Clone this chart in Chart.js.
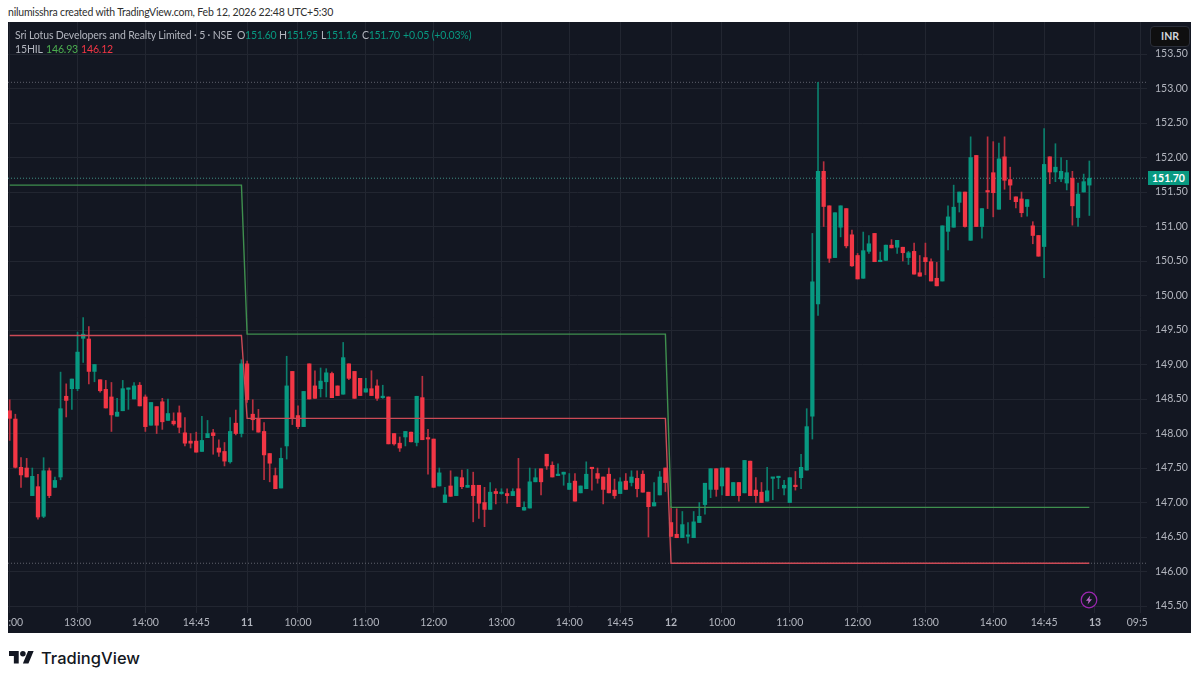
<!DOCTYPE html>
<html>
<head>
<meta charset="utf-8">
<title>Sri Lotus Developers and Realty Limited</title>
<script src="https://cdn.jsdelivr.net/npm/chart.js@4/dist/chart.umd.min.js"></script>
<style>
html, body { margin: 0; padding: 0; background: #fff; width: 1200px; height: 683px; overflow: hidden; }
body { position: relative; font-family: Lato, sans-serif; }
.abs { position: absolute; white-space: nowrap; }
#panel { position: absolute; left: 8px; top: 22px; width: 1183px; height: 611px; background: #131722; overflow: hidden; }
#chart { position: absolute; left: 0; top: 0; }
#byline { left: 8px; top: 4px; font-size: 10.5px; letter-spacing: -0.2px; line-height: 16px; color: #2e2e2e; }
.legend { font-size: 10.5px; letter-spacing: -0.15px; line-height: 14px; color: #b2b5be; }
.num { letter-spacing: -0.3px; }
.teal { color: #089981; }
#inr { left: 1150px; top: 26px; width: 38px; height: 19px; border: 1px solid #2a2e39; border-radius: 4px; background: #0f0f10; color: #d1d4dc; font-size: 10.5px; font-weight: 700; line-height: 19px; text-align: center; }
#last { left: 1148px; top: 171px; width: 41px; height: 14px; background: #089981; color: #fff; font-size: 10.5px; font-weight: 700; line-height: 14px; text-align: center; }
#cut { left: 1147px; top: 613px; width: 44px; height: 20px; background: #131722; }
#tvname { left: 41px; top: 645px; font-family: Inter, sans-serif; font-size: 16.5px; font-weight: 500; line-height: 26px; color: #131722; }
</style>
</head>
<body>
<div id="panel"><canvas id="chart" width="1183" height="611"></canvas></div>
<div class="abs" id="cut"></div>
<div class="abs" id="byline">nilumisshra created with TradingView.com, Feb 12, 2026 22:48 UTC+5:30</div>
<div class="abs legend" style="left:15px;top:28px">Sri Lotus Developers and Realty Limited · 5 · NSE</div>
<div class="abs legend num" style="left:237px;top:28px">O<span class="teal">151.60</span></div>
<div class="abs legend num" style="left:279px;top:28px">H<span class="teal">151.95</span></div>
<div class="abs legend num" style="left:321px;top:28px">L<span class="teal">151.16</span></div>
<div class="abs legend num" style="left:362px;top:28px">C<span class="teal">151.70</span></div>
<div class="abs legend teal" style="left:403px;top:28px">+0.05 (+0.03%)</div>
<div class="abs legend" style="left:15px;top:42px">15HIL</div>
<div class="abs legend" style="left:46px;top:42px;color:#4caf50">146.93</div>
<div class="abs legend" style="left:81px;top:42px;color:#f23645">146.12</div>
<div class="abs" id="inr">INR</div>
<div class="abs" id="last">151.70</div>
<svg class="abs" style="left:1080px;top:591px" width="18" height="18" viewBox="0 0 18 18">
  <circle cx="9" cy="9" r="7.8" fill="#131722" stroke="#9c27b0" stroke-width="1.2"/>
  <path d="M10.3 4.6 6 9.8h2.6L7.6 13.4 12 8.2H9.4z" fill="#ba68c8"/>
</svg>
<svg class="abs" style="left:9px;top:648px" width="25" height="20" viewBox="0 0 36 28">
  <path d="M14 22H7V11H0V4h14v18zM28 22h-8l7.5-18h8L28 22z" fill="#131722"/>
  <circle cx="20" cy="8" r="4" fill="#131722"/>
</svg>
<div class="abs" id="tvname">TradingView</div>

<script>
// 5 minute candles, first one on screen is bar -42, session of the 11th starts at bar 0
var opens = [
    148.33, 148.21, 147.51, 147.50, 147.10, 147.23, 146.80, 147.46, 147.22, 147.37,
    148.54, 148.65, 148.65, 149.38, 149.37, 148.90, 148.78, 148.64, 148.53, 148.25,
    148.33, 148.64, 148.50, 148.70, 148.53, 148.12, 148.39, 148.46, 148.19, 148.18,
    148.30, 148.01, 147.89, 147.89, 147.74, 147.94, 148.01, 147.79, 147.74, 147.59,
    148.15, 148.00,
    // 11th
    149.01, 148.28, 148.21, 148.03, 147.71, 147.39, 147.21, 147.82, 148.90, 148.26,
    148.10, 149.01, 148.69, 148.65, 148.75, 148.87, 148.69, 148.57, 149.01, 148.90,
    148.80, 148.60, 148.65, 148.69, 148.52, 148.53, 148.00, 147.86, 147.95, 148.02,
    147.87, 148.52, 147.93, 147.92, 147.24, 147.00, 147.24, 147.10, 147.36, 147.22,
    147.25, 147.25, 147.00, 146.90, 147.16, 147.13, 147.13, 147.10, 147.20, 146.89,
    146.92, 147.30, 147.49, 147.70, 147.54, 147.39, 147.41, 147.19, 147.31, 147.14,
    147.20, 147.50, 147.42, 147.37, 147.41, 147.18, 147.13, 147.31, 147.29, 147.35,
    147.41, 147.15, 146.95, 147.11, 147.50,
    // 12th
    146.71, 146.54, 146.49, 146.51, 146.49, 146.71, 146.97, 147.19, 147.49, 147.24,
    147.50, 147.10, 147.29, 147.14, 147.60, 147.18, 147.15, 147.02, 147.35, 147.36,
    147.21, 147.00, 147.25, 147.36, 147.47, 148.25, 149.88, 151.80, 151.30, 150.55,
    150.99, 151.26, 150.88, 150.58, 150.25, 150.64, 150.90, 150.49, 150.51, 150.73,
    150.70, 150.70, 150.55, 150.64, 150.33, 150.55, 150.49, 150.25, 150.21, 150.93,
    150.99, 151.35, 151.50, 150.80, 152.03, 151.00, 151.51, 151.78, 151.25, 152.01,
    151.68, 151.43, 151.40, 151.29, 151.01, 150.87, 150.71, 152.01, 151.79, 151.69,
    151.63, 151.70, 151.13, 151.50, 151.60
];
var highs = [
    148.49, 148.28, 147.65, 147.64, 147.50, 147.41, 147.65, 147.50, 147.37, 148.89,
    148.72, 148.79, 149.47, 149.68, 149.55, 149.00, 148.78, 148.77, 148.74, 148.51,
    148.77, 148.66, 148.74, 148.74, 148.56, 148.45, 148.39, 148.51, 148.50, 148.30,
    148.40, 148.23, 148.00, 148.02, 148.25, 148.19, 148.06, 147.91, 147.87, 148.23,
    148.34, 149.07,
    // 11th
    149.05, 148.49, 148.35, 148.16, 147.71, 147.50, 147.79, 149.12, 148.90, 148.40,
    148.61, 149.01, 148.91, 148.95, 148.94, 148.89, 148.69, 149.32, 149.01, 148.90,
    148.80, 148.80, 148.91, 148.78, 148.70, 148.53, 148.00, 147.95, 148.03, 148.02,
    148.54, 148.83, 148.06, 147.92, 147.50, 147.22, 147.46, 147.37, 147.47, 147.48,
    147.44, 147.25, 147.22, 147.29, 147.20, 147.20, 147.20, 147.20, 147.64, 147.01,
    147.50, 147.49, 147.49, 147.70, 147.59, 147.56, 147.44, 147.42, 147.42, 147.24,
    147.59, 147.50, 147.50, 147.37, 147.50, 147.34, 147.36, 147.42, 147.46, 147.46,
    147.46, 147.15, 147.29, 147.45, 147.50,
    // 12th
    146.94, 146.91, 146.87, 146.71, 146.87, 147.00, 147.28, 147.49, 147.49, 147.50,
    147.50, 147.29, 147.29, 147.61, 147.60, 147.36, 147.29, 147.51, 147.36, 147.37,
    147.32, 147.36, 147.45, 147.70, 148.36, 150.90, 153.09, 151.94, 151.30, 151.20,
    151.30, 151.26, 150.95, 150.61, 150.92, 150.87, 150.90, 150.63, 150.73, 150.81,
    150.80, 150.70, 150.64, 150.76, 150.58, 150.76, 150.53, 150.48, 151.01, 151.30,
    151.60, 151.50, 151.50, 152.30, 152.03, 151.26, 152.30, 152.23, 152.21, 152.30,
    151.86, 151.43, 151.50, 151.39, 151.07, 150.87, 152.42, 152.01, 152.20, 152.00,
    151.96, 151.80, 151.63, 151.76, 151.95
];
var lows = [
    147.90, 147.50, 147.22, 147.37, 147.10, 146.76, 146.78, 147.07, 147.22, 147.33,
    148.24, 148.35, 148.62, 149.03, 148.72, 148.75, 148.60, 148.37, 148.03, 148.25,
    148.33, 148.35, 148.50, 148.40, 148.03, 148.12, 148.00, 148.06, 148.19, 148.12,
    148.01, 147.82, 147.79, 147.73, 147.74, 147.94, 147.70, 147.67, 147.53, 147.57,
    147.98, 147.95,
    // 11th
    148.45, 148.05, 148.02, 147.33, 147.30, 147.20, 147.21, 147.63, 148.13, 148.07,
    148.10, 148.50, 148.51, 148.53, 148.53, 148.52, 148.55, 148.57, 148.78, 148.51,
    148.55, 148.60, 148.55, 148.48, 148.51, 147.85, 147.83, 147.74, 147.82, 147.88,
    147.82, 147.91, 147.41, 147.22, 147.24, 147.00, 147.09, 147.10, 147.20, 147.22,
    146.72, 146.77, 146.65, 146.90, 146.98, 147.12, 146.99, 147.10, 146.94, 146.89,
    146.92, 147.30, 147.11, 147.48, 147.37, 147.39, 147.25, 147.19, 147.02, 147.14,
    147.20, 147.18, 147.28, 146.98, 147.14, 147.06, 147.13, 147.19, 147.24, 147.08,
    147.15, 146.50, 146.95, 147.11, 147.16,
    // 12th
    146.51, 146.49, 146.49, 146.41, 146.49, 146.71, 146.83, 147.07, 147.09, 147.11,
    147.10, 147.10, 147.02, 147.14, 147.10, 147.00, 147.00, 147.02, 147.04, 147.20,
    147.11, 147.00, 147.18, 147.20, 147.47, 147.92, 149.71, 151.00, 150.48, 150.55,
    150.85, 150.69, 150.42, 150.24, 150.25, 150.61, 150.49, 150.49, 150.51, 150.69,
    150.61, 150.50, 150.45, 150.31, 150.28, 150.30, 150.21, 150.14, 150.21, 150.66,
    150.99, 151.21, 150.99, 150.80, 151.00, 150.83, 151.26, 151.14, 151.25, 151.54,
    151.39, 151.27, 151.14, 151.15, 150.75, 150.57, 150.26, 151.62, 151.65, 151.65,
    151.53, 151.02, 151.00, 151.50, 151.16
];
var closes = [
    148.22, 147.51, 147.40, 147.37, 147.38, 146.79, 147.46, 147.10, 147.32, 148.36,
    148.48, 148.79, 149.18, 149.44, 148.90, 149.00, 148.62, 148.37, 148.27, 148.31,
    148.65, 148.66, 148.69, 148.40, 148.10, 148.45, 148.12, 148.17, 148.29, 148.14,
    148.09, 147.86, 147.86, 147.73, 147.90, 148.00, 147.97, 147.73, 147.60, 148.03,
    148.00, 149.01,
    // 11th
    148.49, 148.20, 148.02, 147.69, 147.57, 147.20, 147.64, 148.69, 148.22, 148.10,
    148.61, 148.50, 148.51, 148.76, 148.88, 148.52, 148.55, 149.10, 148.80, 148.51,
    148.55, 148.65, 148.55, 148.51, 148.53, 147.85, 147.85, 147.79, 148.03, 147.88,
    148.54, 147.91, 147.92, 147.22, 147.43, 147.11, 147.09, 147.37, 147.23, 147.25,
    147.10, 146.99, 146.90, 147.15, 147.13, 147.14, 147.10, 147.16, 146.94, 146.93,
    147.30, 147.36, 147.30, 147.53, 147.37, 147.40, 147.44, 147.28, 147.02, 147.24,
    147.41, 147.49, 147.35, 147.19, 147.14, 147.10, 147.30, 147.19, 147.37, 147.20,
    147.15, 146.94, 147.00, 147.37, 147.29,
    // 12th
    146.51, 146.49, 146.68, 146.53, 146.72, 146.80, 147.28, 147.49, 147.19, 147.50,
    147.10, 147.29, 147.10, 147.61, 147.10, 147.10, 147.00, 147.17, 147.36, 147.37,
    147.25, 147.36, 147.23, 147.51, 148.10, 150.20, 151.80, 151.29, 150.54, 151.20,
    151.30, 150.72, 150.43, 150.24, 150.65, 150.75, 150.49, 150.51, 150.73, 150.69,
    150.80, 150.62, 150.62, 150.31, 150.28, 150.49, 150.21, 150.14, 151.01, 151.14,
    151.28, 151.50, 151.00, 152.00, 151.00, 151.26, 151.50, 151.49, 151.98, 151.67,
    151.60, 151.36, 151.20, 151.39, 150.87, 150.57, 151.90, 151.79, 151.86, 151.80,
    151.78, 151.30, 151.47, 151.65, 151.70
];

// 15HIL high and low, held flat for a session then stepping at the open
var hilBars = [-42, -1, 0, 74, 75, 149];
var hilHigh = [151.60, 151.60, 149.44, 149.44, 146.93, 146.93];
var hilLow = [149.42, 149.42, 148.22, 148.22, 146.12, 146.12];

// dotted price lines across the pane: day high, last price, day low
var dottedEnds = [-42.3, 159.2];
var dayHigh = [153.09, 153.09];
var lastPrice = [151.70, 151.70];
var dayLow = [146.12, 146.12];

var priceTicks = [145.5, 146, 146.5, 147, 147.5, 148, 148.5, 149, 149.5, 150, 150.5, 151, 151.5, 152, 152.5, 153, 153.5];
var timeTickBars = [-42, -30, -18, -9, 0, 9, 21, 33, 45, 57, 66, 75, 84, 96, 108, 120, 132, 141, 150, 158];
var timeTickLabels = ['12:00', '13:00', '14:00', '14:45', '11', '10:00', '11:00', '12:00', '13:00', '14:00', '14:45', '12', '10:00', '11:00', '12:00', '13:00', '14:00', '14:45', '13', '09:55'];
var dayTicks = ['11', '12', '13'];

var GREEN = '#089981';
var RED = '#f23645';
var FIRST_BAR = -42;
var AXIS_FONT = 'Lato, sans-serif';

function candleColor(i, up, down) {
    return closes[i] >= opens[i] ? up : down;
}

function xy(xs, ys) {
    return xs.map(function (x, i) { return { x: x, y: ys[i] }; });
}

function lineSet(xs, ys, color, extra) {
    return Object.assign({
        type: 'line',
        data: xy(xs, ys),
        borderColor: color,
        borderWidth: 1.4,
        pointRadius: 0,
        tension: 0,
        order: 0
    }, extra || {});
}

// no room kept for labels that hang over the pane edge, they get cut like the original
function noPadding(axis) {
    axis.paddingLeft = 0;
    axis.paddingRight = 0;
    axis.paddingTop = 0;
    axis.paddingBottom = 0;
}

var wicks = opens.map(function (o, i) { return { x: i + FIRST_BAR, y: [lows[i], highs[i]] }; });
var bodies = opens.map(function (o, i) { return { x: i + FIRST_BAR, y: [o, closes[i]] }; });

var ctx = document.getElementById('chart').getContext('2d');
var myChart = new Chart(ctx, {
    type: 'bar',
    data: {
        datasets: [
            lineSet(hilBars, hilHigh, '#3f8f4e'),
            lineSet(hilBars, hilLow, '#cc4a56'),
            lineSet(dottedEnds, dayHigh, '#5f626d', { borderWidth: 1, borderDash: [1, 2], order: 3 }),
            lineSet(dottedEnds, lastPrice, '#3f8f84', { borderWidth: 1, borderDash: [1, 2], order: 3 }),
            lineSet(dottedEnds, dayLow, '#5f626d', { borderWidth: 1, borderDash: [1, 2], order: 3 }),
            {
                data: bodies,
                grouped: false,
                barThickness: 3.6,
                minBarLength: 1.5,
                backgroundColor: opens.map(function (o, i) { return candleColor(i, GREEN, RED); }),
                order: 1
            },
            {
                data: wicks,
                grouped: false,
                barThickness: 1,
                backgroundColor: opens.map(function (o, i) { return candleColor(i, '#0b7f6d', '#b8303f'); }),
                order: 2
            }
        ]
    },
    options: {
        responsive: false,
        animation: false,
        layout: { padding: 0 },
        plugins: { legend: { display: false }, tooltip: { enabled: false } },
        scales: {
            x: {
                type: 'linear',
                offset: false,
                min: -42.3,
                max: 159.2,
                afterFit: function (axis) { axis.height = 20; noPadding(axis); },
                afterBuildTicks: function (axis) {
                    axis.ticks = timeTickBars.map(function (v) { return { value: v }; });
                },
                grid: { color: '#222631', offset: false, drawTicks: false },
                border: { display: false },
                ticks: {
                    autoSkip: false,
                    maxRotation: 0,
                    padding: 3,
                    color: '#b2b5be',
                    font: function (c) {
                        var label = c.tick ? timeTickLabels[timeTickBars.indexOf(c.tick.value)] : '';
                        return { family: AXIS_FONT, size: 10.5, weight: dayTicks.indexOf(label) >= 0 ? '700' : '400' };
                    },
                    callback: function (value) { return timeTickLabels[timeTickBars.indexOf(value)]; }
                }
            },
            y: {
                position: 'right',
                beginAtZero: false,
                min: 145.399,
                max: 153.964,
                afterFit: function (axis) { axis.width = 44; noPadding(axis); },
                afterBuildTicks: function (axis) {
                    axis.ticks = priceTicks.map(function (v) { return { value: v }; });
                },
                grid: { color: '#222631', drawTicks: false },
                border: { display: false },
                ticks: {
                    padding: 8,
                    color: '#b2b5be',
                    font: { family: AXIS_FONT, size: 10.5 },
                    callback: function (value) { return value.toFixed(2); }
                }
            }
        }
    }
});
</script>
</body>
</html>
